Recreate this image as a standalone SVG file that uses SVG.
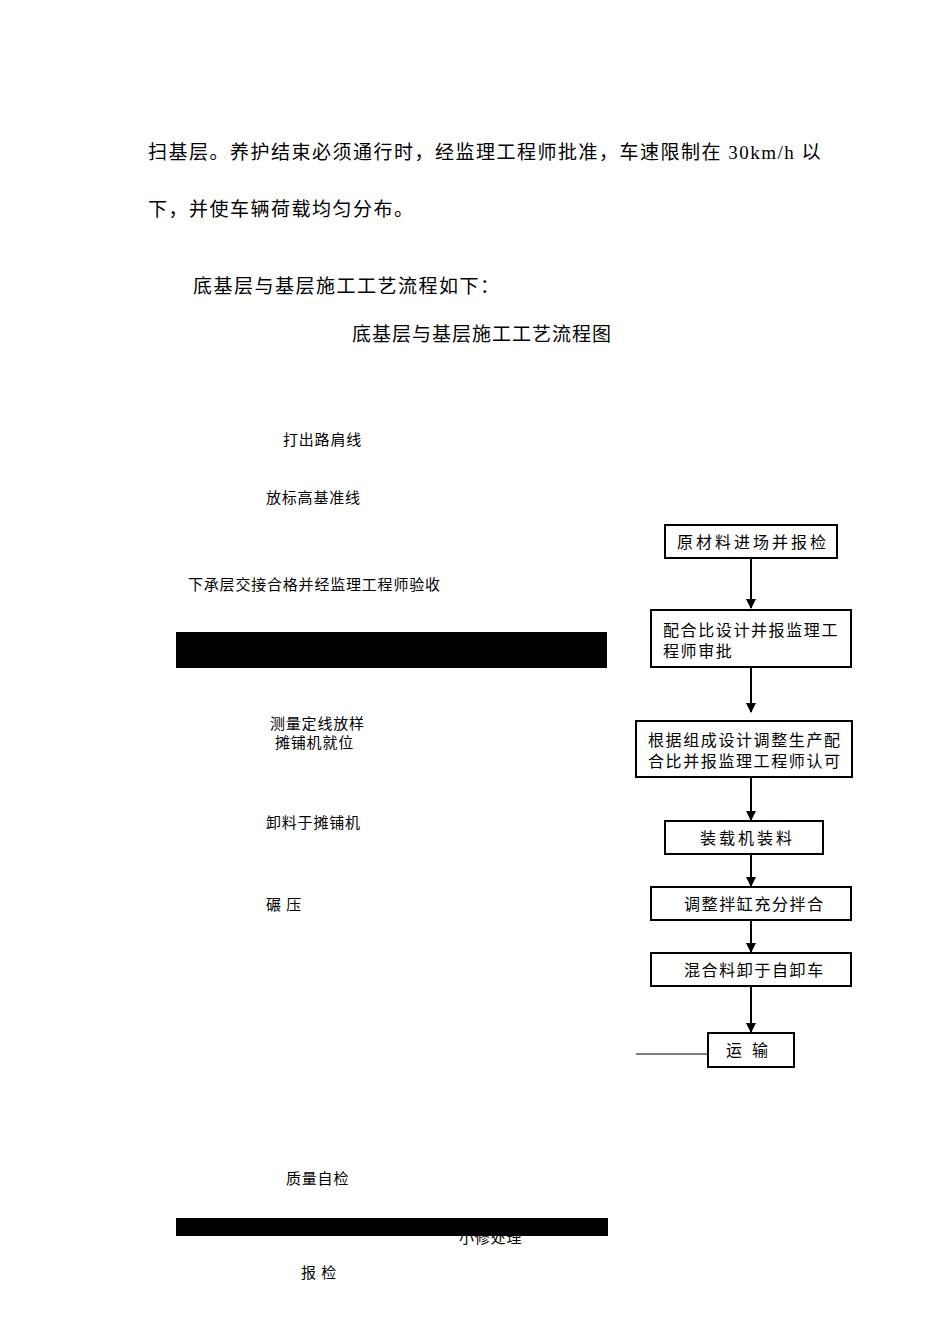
<svg xmlns="http://www.w3.org/2000/svg" width="950" height="1344" viewBox="0 0 950 1344">
<style>
text{font-family:"Liberation Serif","Noto Sans CJK SC",serif;fill:#000}
.b{font-size:19px;letter-spacing:1.5px}
.s{font-size:15px;letter-spacing:0.8px}
.n{font-size:16px;letter-spacing:3px}
.m{font-size:16px;letter-spacing:1.6px}
.box{fill:#fff;stroke:#000;stroke-width:2}
.ln{stroke:#000;stroke-width:2;fill:none}
</style>
<defs><marker id="a" markerWidth="10" markerHeight="10" refX="9" refY="5" orient="auto" markerUnits="userSpaceOnUse"><path d="M0,0L10,5L0,10z" fill="#000"/></marker></defs>
<rect width="950" height="1344" fill="#fff"/>
<text class="b" x="148" y="159">扫基层。养护结束必须通行时，经监理工程师批准，车速限制在 30km/h 以</text>
<text class="b" x="148" y="216">下，并使车辆荷载均匀分布。</text>
<text class="b" x="193" y="293">底基层与基层施工工艺流程如下：</text>
<text class="b" x="352" y="341" style="letter-spacing:1px">底基层与基层施工工艺流程图</text>
<g id="left">
<text class="s" x="283" y="445">打出路肩线</text>
<text class="s" x="266" y="503">放标高基准线</text>
<text class="s" x="188" y="590">下承层交接合格并经监理工程师验收</text>
<rect x="176" y="632" width="431" height="36" fill="#000"/>
<text class="s" x="270" y="729">测量定线放样</text>
<text class="s" x="275" y="748">摊铺机就位</text>
<text class="s" x="266" y="828">卸料于摊铺机</text>
<text class="s" x="266" y="910">碾  压</text>
<text class="s" x="286" y="1184">质量自检</text>
<text class="s" x="459" y="1243">小修处理</text>
<rect x="176" y="1218" width="432" height="18" fill="#000"/>
<text class="s" x="301" y="1278">报 检</text>
</g>
<g id="connectors">
<path class="ln" d="M751,558V608" marker-end="url(#a)"/>
<path class="ln" d="M751,667V712" marker-end="url(#a)"/>
<path class="ln" d="M751,777V820" marker-end="url(#a)"/>
<path class="ln" d="M751,854V886" marker-end="url(#a)"/>
<path class="ln" d="M751,920V952" marker-end="url(#a)"/>
<path class="ln" d="M751,986V1032" marker-end="url(#a)"/>
<path d="M636,1054H708" stroke="#000" stroke-width="1"/>
</g>
<g id="n1"><rect class="box" x="665" y="525" width="172" height="33"/><text class="n" x="677" y="548">原材料进场并报检</text></g>
<g id="n2"><rect class="box" x="651" y="610" width="200" height="57"/><text class="m" x="663" y="636">配合比设计并报监理工</text><text class="m" x="663" y="657">程师审批</text></g>
<g id="n3"><rect class="box" x="636" y="721" width="216" height="56"/><text class="m" x="648" y="746">根据组成设计调整生产配</text><text class="m" x="648" y="767">合比并报监理工程师认可</text></g>
<g id="n4"><rect class="box" x="665" y="821" width="158" height="33"/><text class="n" x="700" y="844">装载机装料</text></g>
<g id="n5"><rect class="box" x="651" y="887" width="200" height="33"/><text class="m" x="684" y="910">调整拌缸充分拌合</text></g>
<g id="n6"><rect class="box" x="651" y="953" width="200" height="33"/><text class="m" x="684" y="976">混合料卸于自卸车</text></g>
<g id="n7"><rect class="box" x="708" y="1033" width="86" height="34"/><text class="n" x="726" y="1056">运  输</text></g>
</svg>
